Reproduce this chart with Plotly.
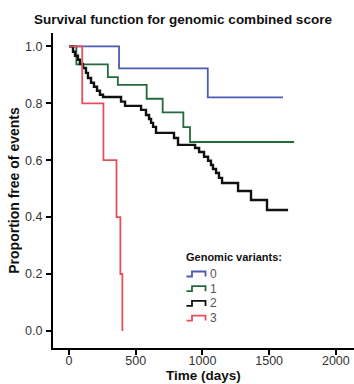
import plotly.graph_objects as go

# Canvas and plot-area margins (pixels)
W, H = 354, 384
ML, MR, MT, MB = 53, 0, 33, 36
PW, PH = W - ML - MR, H - MT - MB

FONT = "Liberation Sans, Arial, Helvetica, sans-serif"

# Kaplan-Meier curves per number of genomic variants
variants = ["0", "1", "2", "3"]
colors = ["#4b5cb4", "#236a3d", "#111111", "#e4505c"]

t0 = [0, 375, 1040, 1604]
s0 = [1.0, 0.923, 0.821, 0.821]

t1 = [0, 55, 291, 366, 582, 702, 857, 907, 1687]
s1 = [1.0, 0.937, 0.892, 0.865, 0.816, 0.768, 0.716, 0.664, 0.664]

t2 = [0, 30, 45, 67, 82, 105, 127, 142, 165, 187,
      210, 232, 255, 390, 420, 540, 577, 600, 615, 630,
      652, 787, 817, 945, 975, 1012, 1042, 1064, 1079, 1102,
      1124, 1147, 1267, 1364, 1484, 1642]
s2 = [1.0, 0.981, 0.967, 0.953, 0.938, 0.924, 0.907, 0.889, 0.872, 0.858,
      0.844, 0.830, 0.822, 0.806, 0.791, 0.777, 0.759, 0.745, 0.731, 0.717,
      0.696, 0.678, 0.654, 0.643, 0.629, 0.612, 0.598, 0.583, 0.569, 0.555,
      0.538, 0.520, 0.492, 0.460, 0.425, 0.425]

t3 = [0, 99, 258, 356, 385, 400]
s3 = [1.0, 0.8, 0.6, 0.4, 0.2, 0.0]

times = [t0, t1, t2, t3]
surv = [s0, s1, s2, s3]
widths = [1.8, 1.8, 2.4, 1.8]

x_ticks = [0, 500, 1000, 1500, 2000]
y_ticks = [0.0, 0.2, 0.4, 0.6, 0.8, 1.0]


def px_x(p):
    """Horizontal pixel -> paper coordinate."""
    return (p - ML) / PW


def px_y(p):
    """Vertical pixel -> paper coordinate."""
    return (H - MB - p) / PH


fig = go.Figure()
for name, t, s, c, w in zip(variants, times, surv, colors, widths):
    fig.add_trace(go.Scatter(
        x=t, y=s, mode="lines", name=name,
        line=dict(color=c, width=w, shape="hv"),
        showlegend=False,
    ))

# Hand-drawn legend with step-shaped keys
shapes = []
annotations = [dict(
    text="<b>Genomic variants:</b>", xref="paper", yref="paper",
    x=px_x(184), y=px_y(257), xanchor="left", yanchor="middle",
    showarrow=False, font=dict(family=FONT, size=11, color="#111"),
)]
for i, (name, c) in enumerate(zip(variants, colors)):
    yc = 274 + i * 14.7
    lo, hi = px_y(yc + 2.5), px_y(yc - 2.5)
    xa, xb, xc = px_x(186.5), px_x(192), px_x(205.5)
    shapes.append(dict(
        type="path", xref="paper", yref="paper",
        path=f"M {xa} {lo} L {xb} {lo} L {xb} {hi} L {xc} {hi} L {xc} {lo}",
        line=dict(color=c, width=1.8),
    ))
    annotations.append(dict(
        text=name, xref="paper", yref="paper",
        x=px_x(207.5), y=px_y(yc), xanchor="left", yanchor="middle",
        showarrow=False, font=dict(family=FONT, size=12, color="#555"),
    ))

# x-axis title placed just under the tick labels
annotations.append(dict(
    text="<b>Time (days)</b>", xref="paper", yref="paper",
    x=0.5, y=px_y(375.5), xanchor="center", yanchor="middle",
    showarrow=False, font=dict(family=FONT, size=13.5, color="#111"),
))

axis_common = dict(
    showline=True, linecolor="black", linewidth=2,
    ticks="outside", ticklen=5, tickwidth=2, tickcolor="black",
    showgrid=False, zeroline=False,
    tickfont=dict(family=FONT, size=12.5, color="#333"),
)

fig.update_layout(
    width=W, height=H,
    margin=dict(l=ML, r=MR, t=MT, b=MB),
    paper_bgcolor="white", plot_bgcolor="white",
    title=dict(
        text="<b>Survival function for genomic combined score</b>",
        xref="container", yref="container",
        x=183 / W, y=1 - 19 / H, xanchor="center", yanchor="middle",
        font=dict(family=FONT, size=13.5, color="#111"),
    ),
    xaxis=dict(
        range=[-120, 2136], tickvals=x_ticks, ticklabelstandoff=-5,
        **axis_common,
    ),
    yaxis=dict(
        range=[-0.06, 1.047], tickvals=y_ticks, tickformat=".1f",
        ticklabelstandoff=1,
        title=dict(text="<b>Proportion free of events</b>", standoff=2,
                   font=dict(family=FONT, size=14, color="#111")),
        **axis_common,
    ),
    shapes=shapes,
    annotations=annotations,
)

fig.write_html("out.html")
